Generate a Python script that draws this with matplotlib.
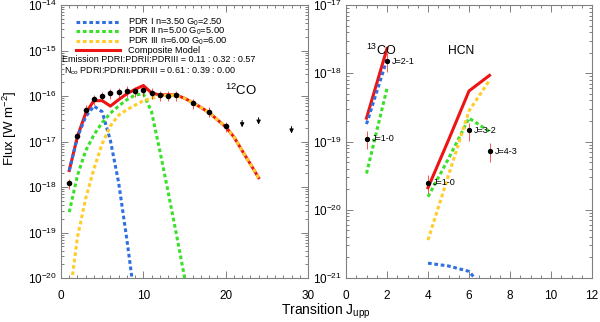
import matplotlib
matplotlib.use('Agg')
import matplotlib.pyplot as plt
from matplotlib.ticker import LogLocator, MultipleLocator, NullFormatter

plt.rcParams['font.family'] = ['Liberation Sans', 'DejaVu Sans']
plt.rcParams['mathtext.fontset'] = 'custom'
plt.rcParams['mathtext.rm'] = 'Liberation Sans'
plt.rcParams['mathtext.it'] = 'Liberation Sans'

# ---- 12CO ladder (left panel) ----
co_j_obs = [1, 2, 3, 4, 5, 6, 7, 8, 9, 10, 11, 12, 13, 14, 16, 18, 20]
co_flux_obs = [1.2e-18, 1.3e-17, 5.0e-17, 8.4e-17, 9.8e-17, 1.14e-16, 1.22e-16, 1.3e-16, 1.26e-16,
               1.35e-16, 1.17e-16, 1.05e-16, 1.02e-16, 1.05e-16, 6.9e-17, 4.5e-17, 2.2e-17]
co_err_frac = 0.25
co_j_lim = [22, 24, 28]
co_flux_lim = [2.05e-17, 2.35e-17, 1.5e-17]

co_j_pdr1 = [1, 2, 3, 4, 5, 6, 7, 8, 9]
co_pdr1 = [2.3e-18, 1.25e-17, 3.5e-17, 6.0e-17, 4.5e-17, 1.05e-17, 1.25e-18, 7.0e-20, 3.0e-21]
co_j_pdr2 = [1, 2, 3, 4, 5, 6, 7, 8, 9, 10, 11, 12, 13, 14, 15, 16]
co_pdr2 = [2.8e-19, 1.8e-18, 6.3e-18, 1.4e-17, 2.6e-17, 4.2e-17, 6.0e-17, 8.3e-17, 1.05e-16,
           1.12e-16, 4.5e-17, 6.3e-18, 8.0e-19, 9.5e-20, 1.05e-20, 1.0e-21]
co_j_model = list(range(1, 25))
co_pdr3 = [3.2e-21, 7.9e-20, 5.6e-19, 2.5e-18, 8.9e-18, 2.2e-17, 3.8e-17, 5.0e-17, 6.3e-17, 7.9e-17,
           8.9e-17, 1.0e-16, 1.05e-16, 1.02e-16, 8.9e-17, 7.2e-17, 5.6e-17, 4.3e-17, 3.0e-17, 2.1e-17,
           1.26e-17, 6.3e-18, 3.2e-18, 1.6e-18]
co_total = [2.3e-18, 1.3e-17, 4.2e-17, 7.9e-17, 7.9e-17, 6.0e-17, 8.3e-17, 1.12e-16, 1.4e-16, 1.7e-16,
            1.17e-16, 1.05e-16, 1.07e-16, 1.05e-16, 8.9e-17, 7.2e-17, 5.6e-17, 4.3e-17, 3.0e-17, 2.1e-17,
            1.26e-17, 6.3e-18, 3.2e-18, 1.6e-18]

# ---- 13CO and HCN (right panel) ----
c13_x = [1, 2]
c13_obs = [1.1e-19, 1.5e-18]
c13_labels = ['J=1-0', 'J=2-1']
c13_total = [2.2e-19, 2.3e-18]
c13_pdr1 = [1.8e-19, 1.6e-18]
c13_pdr2 = [3.4e-20, 6.0e-19]

hcn_x = [4, 5, 6, 7]
hcn_x_obs = [4, 6, 7]
hcn_obs = [2.5e-20, 1.45e-19, 7.2e-20]
hcn_labels = ['J=1-0', 'J=3-2', 'J=4-3']
hcn_total = [2.1e-20, 1.05e-19, 5.5e-19, 9.3e-19]
hcn_pdr1 = [1.65e-21, 1.5e-21, 1.25e-21, 5.6e-22]
hcn_pdr2 = [1.55e-20, 5.6e-20, 2.2e-19, 1.4e-19]
hcn_pdr3 = [3.6e-21, 3.2e-20, 2.8e-19, 7.9e-19]
right_err_frac = 0.3

legend_labels = ['PDR I n=3.50 G$_0$=2.50', 'PDR II n=5.00 G$_0$=5.00',
                 'PDR III n=6.00 G$_0$=6.00', 'Composite Model']

BLUE = '#2f6fe0'
GREEN = '#3ae02a'
YELLOW = '#ffcc2a'
RED = '#ee1414'
FRAME = '#808080'
DOT = (0, (1.2, 0.9))
LW = 2.2


def style_axis(ax):
    for s in ax.spines.values():
        s.set_color(FRAME)
        s.set_linewidth(0.8)
    ax.tick_params(which='both', direction='in', top=True, right=True, color=FRAME, width=0.7,
                   labelsize=8.5)
    ax.tick_params(which='major', length=5)
    ax.tick_params(which='minor', length=2.5)
    ax.tick_params(axis='x', pad=8.5)
    ax.tick_params(axis='y', pad=3)
    ax.yaxis.set_minor_locator(LogLocator(base=10, subs=range(2, 10), numticks=20))
    ax.yaxis.set_minor_formatter(NullFormatter())


def errs(vals, frac):
    return [[v * frac for v in vals], [v * frac for v in vals]]


fig = plt.figure(figsize=(6, 3.22), dpi=100)
ax1 = fig.add_axes([61 / 600, 1 - 278 / 322, 247 / 600, 273 / 322])
ax2 = fig.add_axes([346 / 600, 1 - 278 / 322, 246 / 600, 273 / 322])

# left panel
ax1.plot(co_j_model, co_total, color=RED, lw=LW, zorder=2)
ax1.plot(co_j_pdr1, co_pdr1, color=BLUE, lw=LW, ls=DOT, zorder=3)
ax1.plot(co_j_pdr2, co_pdr2, color=GREEN, lw=LW, ls=DOT, zorder=3)
ax1.plot(co_j_model, co_pdr3, color=YELLOW, lw=LW, ls=DOT, zorder=3)
ax1.errorbar(co_j_obs, co_flux_obs, yerr=errs(co_flux_obs, co_err_frac), fmt='o', ms=3,
             mfc='black', mec='black', ecolor=RED, elinewidth=0.5, capsize=0, zorder=4)
for j, f in zip(co_j_lim, co_flux_lim):
    ax1.annotate('', xy=(j, f), xytext=(0, 5), textcoords='offset points',
                 arrowprops=dict(arrowstyle='-|>,head_length=0.25,head_width=0.12',
                                 color='black', lw=0.7, shrinkA=0, shrinkB=0))

ax1.set_yscale('log')
ax1.set_xlim(0, 30)
ax1.set_ylim(1e-20, 1e-14)
ax1.xaxis.set_major_locator(MultipleLocator(10))
ax1.xaxis.set_minor_locator(MultipleLocator(1))
style_axis(ax1)

# legend drawn by hand so the rows sit as tightly as in the original
leg_styles = [(BLUE, DOT), (GREEN, DOT), (YELLOW, DOT), (RED, '-')]
leg_rows = [0.938, 0.903, 0.869, 0.835]
for (col, ls), yy, lab in zip(leg_styles, leg_rows, legend_labels):
    ax1.plot([0.061, 0.239], [yy, yy], color=col, lw=LW, ls=ls, transform=ax1.transAxes)
    ax1.text(0.271, yy, lab, transform=ax1.transAxes, fontsize=6.7, va='center', ha='left')

ax1.text(0.006, 0.799, 'Emission PDRI:PDRII:PDRIII = 0.11 : 0.32 : 0.57', transform=ax1.transAxes,
         fontsize=6.5, va='center', ha='left')
ax1.text(0.012, 0.757, 'N$_{\\rm co}$ PDRI:PDRII:PDRIII = 0.61 : 0.39 : 0.00', transform=ax1.transAxes,
         fontsize=6.5, va='center', ha='left')
ax1.text(0.664, 0.686, '$^{12}$CO', transform=ax1.transAxes, fontsize=9.5, va='center', ha='left')

# right panel
ax2.plot(c13_x, c13_total, color=RED, lw=LW, zorder=2)
ax2.plot(c13_x, c13_pdr1, color=BLUE, lw=LW, ls=DOT, zorder=3)
ax2.plot(c13_x, c13_pdr2, color=GREEN, lw=LW, ls=DOT, zorder=3)
ax2.plot(hcn_x, hcn_total, color=RED, lw=LW, zorder=2)
ax2.plot(hcn_x, hcn_pdr1, color=BLUE, lw=LW, ls=DOT, zorder=3)
ax2.plot(hcn_x, hcn_pdr2, color=GREEN, lw=LW, ls=DOT, zorder=3)
ax2.plot(hcn_x, hcn_pdr3, color=YELLOW, lw=LW, ls=DOT, zorder=3)
for xs, ys, labs in [(c13_x, c13_obs, c13_labels), (hcn_x_obs, hcn_obs, hcn_labels)]:
    ax2.errorbar(xs, ys, yerr=errs(ys, right_err_frac), fmt='o', ms=2.8, mfc='black', mec='black',
                 ecolor=RED, elinewidth=0.5, capsize=0, zorder=4)
    for x, y, lab in zip(xs, ys, labs):
        ax2.annotate(lab, xy=(x, y), xytext=(3.5, 0), textcoords='offset points', fontsize=6.5,
                     va='center', ha='left')

ax2.text(0.081, 0.832, '$^{13}$CO', transform=ax2.transAxes, fontsize=9, va='center', ha='left')
ax2.text(0.415, 0.832, 'HCN', transform=ax2.transAxes, fontsize=8.7, va='center', ha='left')

ax2.set_yscale('log')
ax2.set_xlim(0, 12)
ax2.set_ylim(1e-21, 1e-17)
ax2.xaxis.set_major_locator(MultipleLocator(2))
ax2.xaxis.set_minor_locator(MultipleLocator(0.5))
style_axis(ax2)

fig.text(10 / 600, 1 - 128 / 322, 'Flux [W m$^{-2}$]', rotation=90, fontsize=9.5,
         va='center', ha='center')
fig.text(326 / 600, 1 - 311 / 322, 'Transition J$_{\\rm upp}$', fontsize=10,
         va='center', ha='center')

fig.savefig('out.png', dpi=100)
